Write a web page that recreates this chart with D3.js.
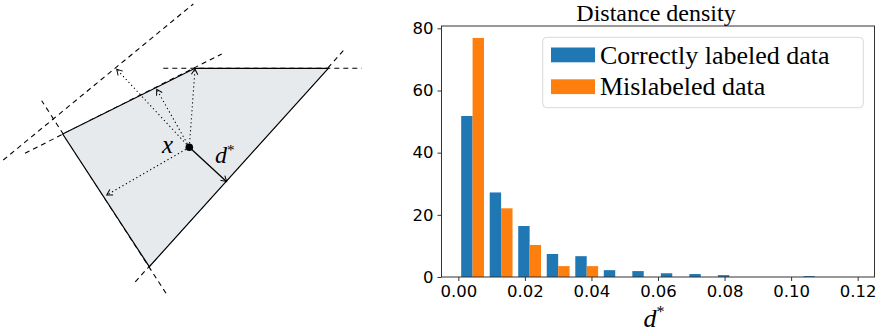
<!DOCTYPE html>
<html>
<head>
<meta charset="utf-8">
<script src="https://cdn.jsdelivr.net/npm/d3@7"></script>
<style>
  html, body { margin: 0; padding: 0; background: #fff; }
  svg { display: block; }
</style>
</head>
<body>
<svg id="chart" width="885" height="333"></svg>
<script>
// ---------------- DATA ----------------
// Histogram (density) of distances d*
const binEdges = [0.0, 0.00857, 0.01714, 0.02571, 0.03429, 0.04286, 0.05143, 0.06,
                  0.06857, 0.07714, 0.08571, 0.09429, 0.10286, 0.11143, 0.12];
const correctDensity    = [51.8, 27.2, 16.4, 7.4, 6.7, 2.2, 1.9, 1.2, 0.95, 0.6, 0, 0, 0.3, 0];
const mislabeledDensity = [76.9, 22.1, 10.3, 3.5, 3.5, 0, 0, 0, 0, 0, 0, 0, 0, 0];
const seriesNames = ["Correctly labeled data", "Mislabeled data"];
const xTicks = [0.00, 0.02, 0.04, 0.06, 0.08, 0.10, 0.12];
const yTicks = [0, 20, 40, 60, 80];
const chartTitle = "Distance density";

// Diagram (abstract units)
const polygonVertices = [[6.27, 19.9], [19.5, 26.47], [32.83, 26.47], [14.93, 6.63]];
const hyperplanes = [
  [[16.33, 26.47], [36.17, 26.47]],
  [[34.33, 28.23], [13.4, 4.97]],
  [[16.6, 3.97], [4.17, 23.23]],
  [[2.5, 17.97], [22.17, 27.9]],
  [[0.33, 17.3], [19.33, 32.9]]
];
const pointX = [18.93, 18.57];
const nearestTip = [22.67, 15.13];
const otherTips = [[10.67, 13.8], [19.5, 26.4], [15.67, 24.37], [11.67, 26.37]];

// ---------------- DRAW ----------------
(function () {
const svg = d3.select("#chart");
const serif = "'Liberation Serif', 'DejaVu Serif', serif";
const sans = "'DejaVu Sans', sans-serif";

// ---- Diagram ----
const dx = d3.scaleLinear().domain([0, 40]).range([0, 400]);
const dy = d3.scaleLinear().domain([0, 33.3]).range([333, 0]);
const defs = svg.append("defs");
defs.append("marker").attr("id", "chev")
  .attr("viewBox", "-7 -5 9 10").attr("refX", 0).attr("refY", 0)
  .attr("markerWidth", 9).attr("markerHeight", 10)
  .attr("markerUnits", "userSpaceOnUse").attr("orient", "auto")
  .append("path").attr("d", "M-5.5,-3.2 L0,0 L-5.5,3.2")
  .attr("fill", "none").attr("stroke", "#000").attr("stroke-width", 1);

const dia = svg.append("g");
dia.selectAll("line.hp").data(hyperplanes).join("line").attr("class", "hp")
  .attr("x1", d => dx(d[0][0])).attr("y1", d => dy(d[0][1]))
  .attr("x2", d => dx(d[1][0])).attr("y2", d => dy(d[1][1]))
  .attr("stroke", "#000").attr("stroke-width", 1.1).attr("stroke-dasharray", "5,4");

dia.append("polygon")
  .attr("points", polygonVertices.map(p => [dx(p[0]), dy(p[1])].join(",")).join(" "))
  .attr("fill", "#e7eaed").attr("stroke", "#000").attr("stroke-width", 1.2)
  .attr("stroke-linejoin", "miter");

dia.selectAll("line.other").data(otherTips).join("line").attr("class", "other")
  .attr("x1", dx(pointX[0])).attr("y1", dy(pointX[1]))
  .attr("x2", d => dx(d[0])).attr("y2", d => dy(d[1]))
  .attr("stroke", "#000").attr("stroke-width", 1.1).attr("stroke-dasharray", "1.2,2.8")
  .attr("marker-end", "url(#chev)");

dia.append("line")
  .attr("x1", dx(pointX[0])).attr("y1", dy(pointX[1]))
  .attr("x2", dx(nearestTip[0])).attr("y2", dy(nearestTip[1]))
  .attr("stroke", "#000").attr("stroke-width", 1.3)
  .attr("marker-end", "url(#chev)");

dia.append("circle").attr("cx", dx(pointX[0])).attr("cy", dy(pointX[1])).attr("r", 3.8).attr("fill", "#000");

dia.append("text").attr("x", dx(16.2)).attr("y", dy(18.0))
  .attr("font-family", serif).attr("font-style", "italic").attr("font-size", 25).text("x");
const dl = dia.append("text").attr("x", dx(21.5)).attr("y", dy(17.0))
  .attr("font-family", serif).attr("font-style", "italic").attr("font-size", 24);
dl.append("tspan").text("d");
dl.append("tspan").attr("font-size", 15).attr("font-style", "normal").attr("dy", -8).text("*");

// ---- Histogram ----
const pl = 441.5, pr = 874.5, pt = 26, pb = 277;
const barMin = binEdges[0] + 0.1 * (binEdges[1] - binEdges[0]);
const barMax = binEdges[binEdges.length - 1] - 0.1 * (binEdges[1] - binEdges[0]);
const marg = 0.05 * (barMax - barMin);
const x = d3.scaleLinear().domain([barMin - marg, barMax + marg]).range([pl, pr]);
const ymax = d3.max(correctDensity.concat(mislabeledDensity)) * 1.05;
const y = d3.scaleLinear().domain([0, ymax]).range([pb, pt]);

const bins = binEdges.slice(0, -1).map((e, i) => ({
  x0: e, x1: binEdges[i + 1], a: correctDensity[i], b: mislabeledDensity[i]
}));
const colors = ["#1f77b4", "#ff7f0e"];
const hist = svg.append("g");
hist.selectAll("rect.a").data(bins).join("rect").attr("class", "a")
  .attr("x", d => x(d.x0 + 0.1 * (d.x1 - d.x0)))
  .attr("width", d => x(d.x0 + 0.5 * (d.x1 - d.x0)) - x(d.x0 + 0.1 * (d.x1 - d.x0)))
  .attr("y", d => y(d.a)).attr("height", d => y(0) - y(d.a)).attr("fill", colors[0]);
hist.selectAll("rect.b").data(bins).join("rect").attr("class", "b")
  .attr("x", d => x(d.x0 + 0.5 * (d.x1 - d.x0)))
  .attr("width", d => x(d.x0 + 0.9 * (d.x1 - d.x0)) - x(d.x0 + 0.5 * (d.x1 - d.x0)))
  .attr("y", d => y(d.b)).attr("height", d => y(0) - y(d.b)).attr("fill", colors[1]);

// axes
const xAxis = d3.axisBottom(x).tickValues(xTicks).tickFormat(d3.format(".2f")).tickSize(4).tickPadding(4);
const yAxis = d3.axisLeft(y).tickValues(yTicks).tickSize(4).tickPadding(4);
const gx = svg.append("g").attr("transform", `translate(0,${pb})`).call(xAxis);
const gy = svg.append("g").attr("transform", `translate(${pl},0)`).call(yAxis);
[gx, gy].forEach(g => {
  g.select(".domain").remove();
  g.selectAll("line").attr("stroke", "#333").attr("stroke-width", 1);
  g.selectAll("text").attr("font-family", sans).attr("font-size", 16.5).attr("fill", "#000");
});

svg.append("rect").attr("x", pl).attr("y", pt).attr("width", pr - pl).attr("height", pb - pt)
  .attr("fill", "none").attr("stroke", "#333").attr("stroke-width", 1);

svg.append("text").attr("x", (pl + pr) / 2 - 2).attr("y", 21).attr("text-anchor", "middle")
  .attr("font-family", serif).attr("font-size", 24).text(chartTitle);

const xl = svg.append("text").attr("x", (pl + pr) / 2 - 4).attr("y", 327).attr("text-anchor", "middle")
  .attr("font-family", serif).attr("font-style", "italic").attr("font-size", 26);
xl.append("tspan").text("d");
xl.append("tspan").attr("font-size", 16).attr("font-style", "normal").attr("dy", -10).text("*");

// legend
const lg = svg.append("g");
lg.append("rect").attr("x", 542.7).attr("y", 37.3).attr("width", 320.6).attr("height", 70.4)
  .attr("rx", 4).attr("fill", "#fff").attr("fill-opacity", 0.8).attr("stroke", "#d9d9d9").attr("stroke-width", 1);
seriesNames.forEach((name, i) => {
  const yy = 47.5 + i * 31.8;
  lg.append("rect").attr("x", 551).attr("y", yy).attr("width", 44).attr("height", 14.8).attr("fill", colors[i]);
  lg.append("text").attr("x", 600).attr("y", yy + 16).attr("font-family", serif).attr("font-size", 26).text(name);
});
})();
</script>
</body>
</html>
